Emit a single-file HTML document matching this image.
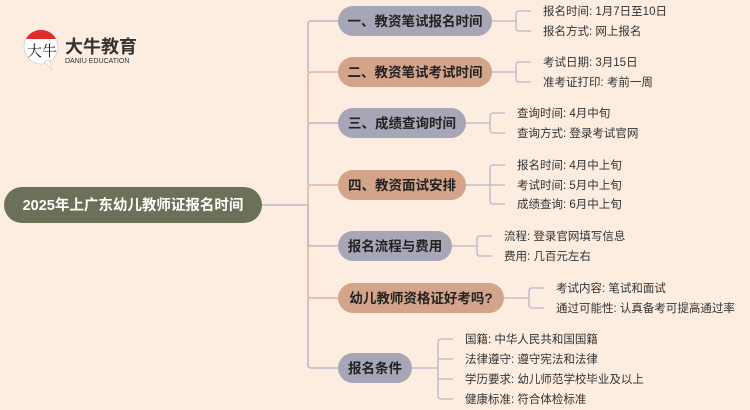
<!DOCTYPE html>
<html><head><meta charset="utf-8"><style>
html,body{margin:0;padding:0;background:#fdede1;}
svg{display:block;}
text{font-family:"Liberation Sans","Noto Sans CJK SC",sans-serif;}
.n{font-size:13.5px;font-weight:bold;fill:#222;}
.l{font-size:11.5px;fill:#333;}
</style></head><body>
<svg width="750" height="410" viewBox="0 0 750 410" xmlns="http://www.w3.org/2000/svg">
<rect width="750" height="410" fill="#fdede1"/>
<!-- logo -->
<circle cx="41" cy="47" r="17" fill="#fff" stroke="#ccc" stroke-width="0.8"/>
<path d="M26 39 A17 17 0 0 1 56 39 Z" fill="#e02b2b"/>
<path d="M44 62 L52 69 L49 60 Z" fill="#fff" stroke="#ccc" stroke-width="0.6"/>
<text x="27" y="56" style="font-family:'Noto Serif CJK SC',serif;font-size:15px;fill:#222">大牛</text>
<text x="65" y="53" style="font-size:18px;font-weight:bold;fill:#333">大牛教育</text>
<text x="65" y="63" style="font-size:7px;fill:#333">DANIU EDUCATION</text>
<!-- main node -->
<line x1="262" y1="205" x2="308" y2="205" stroke="#b9b6c8" stroke-width="1.5"/>
<rect x="4" y="187" width="258" height="36" rx="18" fill="#6b7058"/>
<text x="133" y="210" text-anchor="middle" style="font-size:14.5px;font-weight:bold;fill:#fff">2025年上广东幼儿教师证报名时间</text>
<!-- trunk -->
<g fill="none" stroke-width="1.5">
<path d="M338 21 H311 Q308 21 308 24 V72" stroke="#b9b6c8"/>
<path d="M338 72 H311 Q308 72 308 75 V123" stroke="#e0b49a"/>
<path d="M338 123 H311 Q308 123 308 126 V185" stroke="#b9b6c8"/>
<path d="M338 185 H311 Q308 185 308 188 V246" stroke="#e0b49a"/>
<path d="M338 246 H311 Q308 246 308 243 V205" stroke="#b9b6c8"/>
<path d="M338 298 H311 Q308 298 308 295 V246" stroke="#e0b49a"/>
<path d="M338 368 H311 Q308 368 308 365 V298" stroke="#b9b6c8"/>
</g>
<!-- nodes -->
<rect x="338" y="6" width="154" height="30" rx="15" fill="#a7a6b6"/>
<text x="415" y="26" text-anchor="middle" class="n">一、教资笔试报名时间</text>
<rect x="338" y="57" width="154" height="30" rx="15" fill="#d3a48a"/>
<text x="415" y="77" text-anchor="middle" class="n">二、教资笔试考试时间</text>
<rect x="338" y="108" width="128" height="30" rx="15" fill="#a7a6b6"/>
<text x="402" y="128" text-anchor="middle" class="n">三、成绩查询时间</text>
<rect x="338" y="170" width="128" height="30" rx="15" fill="#d3a48a"/>
<text x="402" y="190" text-anchor="middle" class="n">四、教资面试安排</text>
<rect x="338" y="231" width="114" height="30" rx="15" fill="#a7a6b6"/>
<text x="395" y="251" text-anchor="middle" class="n">报名流程与费用</text>
<rect x="338" y="283" width="166" height="30" rx="15" fill="#d3a48a"/>
<text x="421" y="303" text-anchor="middle" class="n">幼儿教师资格证好考吗?</text>
<rect x="338" y="353" width="74" height="30" rx="15" fill="#a7a6b6"/>
<text x="375" y="373" text-anchor="middle" class="n">报名条件</text>
<!-- brackets -->
<g fill="none" stroke="#b9b6c8" stroke-width="1.3">
<path d="M492 21 H516 M531 11 H519 Q516 11 516 14 V28 Q516 31 519 31 H531"/>
<path d="M492 72 H516 M531 62 H519 Q516 62 516 65 V79 Q516 82 519 82 H531"/>
<path d="M466 123 H490 M505 113 H493 Q490 113 490 116 V130 Q490 133 493 133 H505"/>
<path d="M466 185 H490 M505 165 H493 Q490 165 490 168 V201 Q490 204 493 204 H505 M490 185 H505"/>
<path d="M452 246 H477 M492 236 H480 Q477 236 477 239 V253 Q477 256 480 256 H492"/>
<path d="M504 298 H529 M544 288 H532 Q529 288 529 291 V305 Q529 308 532 308 H544"/>
<path d="M412 368 H438 M453 339 H441 Q438 339 438 342 V396 Q438 399 441 399 H453 M438 359 H453 M438 379 H453"/>
</g>
<!-- leaves -->
<text x="543" y="15" class="l">报名时间: 1月7日至10日</text>
<text x="543" y="35" class="l">报名方式: 网上报名</text>
<text x="543" y="66" class="l">考试日期: 3月15日</text>
<text x="543" y="86" class="l">准考证打印: 考前一周</text>
<text x="517" y="117" class="l">查询时间: 4月中旬</text>
<text x="517" y="137" class="l">查询方式: 登录考试官网</text>
<text x="517" y="169" class="l">报名时间: 4月中上旬</text>
<text x="517" y="189" class="l">考试时间: 5月中上旬</text>
<text x="517" y="208" class="l">成绩查询: 6月中上旬</text>
<text x="504" y="240" class="l">流程: 登录官网填写信息</text>
<text x="504" y="260" class="l">费用: 几百元左右</text>
<text x="556" y="292" class="l">考试内容: 笔试和面试</text>
<text x="556" y="312" class="l">通过可能性: 认真备考可提高通过率</text>
<text x="465" y="343" class="l">国籍: 中华人民共和国国籍</text>
<text x="465" y="363" class="l">法律遵守: 遵守宪法和法律</text>
<text x="465" y="383" class="l">学历要求: 幼儿师范学校毕业及以上</text>
<text x="465" y="403" class="l">健康标准: 符合体检标准</text>
</svg>
</body></html>
